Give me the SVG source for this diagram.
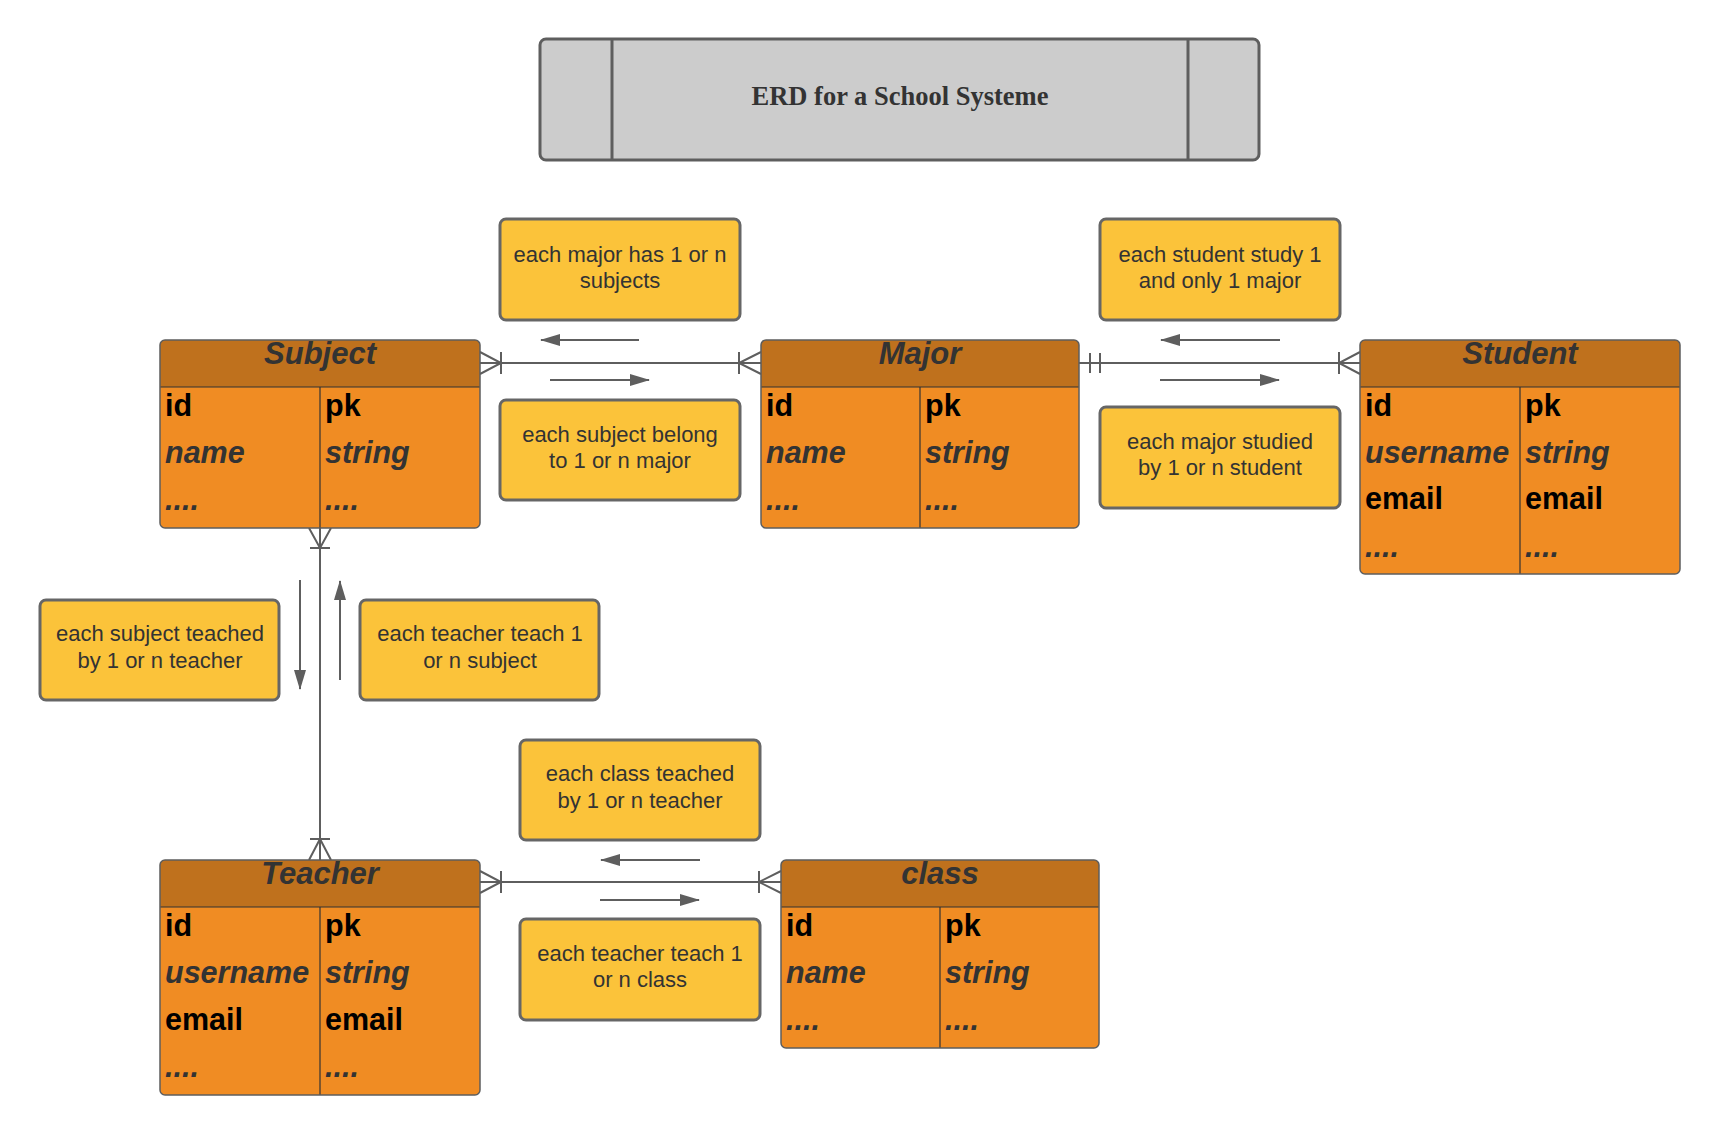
<svg xmlns="http://www.w3.org/2000/svg" width="1720" height="1135" viewBox="0 0 1720 1135">
<style>
.hdr{fill:#BF711D}
.body{fill:#F08C23}
.border{fill:none;stroke:#5E5E5E;stroke-width:1.5}
.sep{stroke:#333;stroke-width:1.2;fill:none}
.ht{font-family:"Liberation Sans",Arial,sans-serif;font-size:31px;font-weight:bold;font-style:italic;fill:#333;text-anchor:middle}
.k{font-family:"Liberation Sans",Arial,sans-serif;font-size:30.5px;font-weight:bold;fill:#000}
.v{font-family:"Liberation Sans",Arial,sans-serif;font-size:30.5px;font-weight:bold;font-style:italic;fill:#333}
.lbl rect{fill:#FBC33A;stroke:#666;stroke-width:3}
.lbl text{font-family:"Liberation Sans",Arial,sans-serif;font-size:22px;fill:#333;text-anchor:middle}
.cn{stroke:#5E5E5E;stroke-width:2;fill:none}
.ar{stroke:#5E5E5E;stroke-width:2;fill:none;marker-end:url(#ah)}
</style>
<defs>
<marker id="ah" markerUnits="userSpaceOnUse" markerWidth="20" markerHeight="12" viewBox="0 0 20 12" refX="19" refY="6" orient="auto">
<path d="M0,0 L20,6 L0,12 Z" fill="#5E5E5E"/>
</marker>
</defs>
<rect width="1720" height="1135" fill="#fff"/>

<g id="title">
<rect x="540" y="39" width="719" height="121" rx="6" fill="#CCCCCC" stroke="#5E5E5E" stroke-width="3"/>
<line x1="612" y1="39" x2="612" y2="160" stroke="#5E5E5E" stroke-width="3"/>
<line x1="1188" y1="39" x2="1188" y2="160" stroke="#5E5E5E" stroke-width="3"/>
<text x="900" y="105" font-family="'Liberation Serif','Times New Roman',serif" font-size="26.5" font-weight="bold" fill="#333" text-anchor="middle">ERD for a School Systeme</text>
</g>

<g id="connectors">
<line class="cn" x1="480" y1="363" x2="761" y2="363"/>
<path class="cn" d="M480,352 L501,363 L480,374 M501,352 V374"/>
<path class="cn" d="M761,352 L739,363 L761,374 M739,352 V374"/>
<line class="cn" x1="1079" y1="363" x2="1360" y2="363"/>
<path class="cn" d="M1090,353 V373 M1100,353 V373"/>
<path class="cn" d="M1360,352 L1339,363 L1360,374 M1339,352 V374"/>
<line class="cn" x1="320" y1="528" x2="320" y2="860"/>
<path class="cn" d="M309,528 L320,548 L331,528 M310,548 H330"/>
<path class="cn" d="M309,860 L320,839 L331,860 M310,839 H330"/>
<line class="cn" x1="480" y1="882" x2="781" y2="882"/>
<path class="cn" d="M480,871 L501,882 L480,893 M501,871 V893"/>
<path class="cn" d="M781,871 L759,882 L781,893 M759,871 V893"/>
<line class="ar" x1="639" y1="340" x2="541" y2="340"/>
<line class="ar" x1="550" y1="380" x2="649" y2="380"/>
<line class="ar" x1="1280" y1="340" x2="1161" y2="340"/>
<line class="ar" x1="1160" y1="380" x2="1279" y2="380"/>
<line class="ar" x1="300" y1="580" x2="300" y2="689"/>
<line class="ar" x1="340" y1="680" x2="340" y2="581"/>
<line class="ar" x1="700" y1="860" x2="601" y2="860"/>
<line class="ar" x1="600" y1="900" x2="699" y2="900"/>
</g>

<g id="subject">
<rect class="body" x="160" y="340" width="320" height="188" rx="5"/>
<path class="hdr" d="M160,387 V345 Q160,340 165,340 H475 Q480,340 480,345 V387 Z"/>
<line class="sep" x1="160" y1="387" x2="480" y2="387"/>
<line class="sep" x1="320" y1="387" x2="320" y2="528"/>
<rect class="border" x="160" y="340" width="320" height="188" rx="5"/>
<text class="ht" x="320" y="364">Subject</text>
<text class="k" x="165" y="416">id</text><text class="k" x="325" y="416">pk</text>
<text class="v" x="165" y="463">name</text><text class="v" x="325" y="463">string</text>
<text class="v" x="165" y="510">....</text><text class="v" x="325" y="510">....</text>
</g>

<g id="major">
<rect class="body" x="761" y="340" width="318" height="188" rx="5"/>
<path class="hdr" d="M761,387 V345 Q761,340 766,340 H1074 Q1079,340 1079,345 V387 Z"/>
<line class="sep" x1="761" y1="387" x2="1079" y2="387"/>
<line class="sep" x1="920" y1="387" x2="920" y2="528"/>
<rect class="border" x="761" y="340" width="318" height="188" rx="5"/>
<text class="ht" x="920" y="364">Major</text>
<text class="k" x="766" y="416">id</text><text class="k" x="925" y="416">pk</text>
<text class="v" x="766" y="463">name</text><text class="v" x="925" y="463">string</text>
<text class="v" x="766" y="510">....</text><text class="v" x="925" y="510">....</text>
</g>

<g id="student">
<rect class="body" x="1360" y="340" width="320" height="234" rx="5"/>
<path class="hdr" d="M1360,387 V345 Q1360,340 1365,340 H1675 Q1680,340 1680,345 V387 Z"/>
<line class="sep" x1="1360" y1="387" x2="1680" y2="387"/>
<line class="sep" x1="1520" y1="387" x2="1520" y2="574"/>
<rect class="border" x="1360" y="340" width="320" height="234" rx="5"/>
<text class="ht" x="1520" y="364">Student</text>
<text class="k" x="1365" y="416">id</text><text class="k" x="1525" y="416">pk</text>
<text class="v" x="1365" y="463">username</text><text class="v" x="1525" y="463">string</text>
<text class="k" x="1365" y="509">email</text><text class="k" x="1525" y="509">email</text>
<text class="v" x="1365" y="557">....</text><text class="v" x="1525" y="557">....</text>
</g>

<g id="teacher">
<rect class="body" x="160" y="860" width="320" height="235" rx="5"/>
<path class="hdr" d="M160,907 V865 Q160,860 165,860 H475 Q480,860 480,865 V907 Z"/>
<line class="sep" x1="160" y1="907" x2="480" y2="907"/>
<line class="sep" x1="320" y1="907" x2="320" y2="1095"/>
<rect class="border" x="160" y="860" width="320" height="235" rx="5"/>
<text class="ht" x="320" y="884">Teacher</text>
<text class="k" x="165" y="936">id</text><text class="k" x="325" y="936">pk</text>
<text class="v" x="165" y="983">username</text><text class="v" x="325" y="983">string</text>
<text class="k" x="165" y="1030">email</text><text class="k" x="325" y="1030">email</text>
<text class="v" x="165" y="1077">....</text><text class="v" x="325" y="1077">....</text>
</g>

<g id="class">
<rect class="body" x="781" y="860" width="318" height="188" rx="5"/>
<path class="hdr" d="M781,907 V865 Q781,860 786,860 H1094 Q1099,860 1099,865 V907 Z"/>
<line class="sep" x1="781" y1="907" x2="1099" y2="907"/>
<line class="sep" x1="940" y1="907" x2="940" y2="1048"/>
<rect class="border" x="781" y="860" width="318" height="188" rx="5"/>
<text class="ht" x="940" y="884">class</text>
<text class="k" x="786" y="936">id</text><text class="k" x="945" y="936">pk</text>
<text class="v" x="786" y="983">name</text><text class="v" x="945" y="983">string</text>
<text class="v" x="786" y="1030">....</text><text class="v" x="945" y="1030">....</text>
</g>

<g id="lbl-major-subjects" class="lbl">
<rect x="500" y="219" width="240" height="101" rx="6"/>
<text x="620" y="262">each major has 1 or n</text>
<text x="620" y="288">subjects</text>
</g>
<g id="lbl-subject-major" class="lbl">
<rect x="500" y="400" width="240" height="100" rx="6"/>
<text x="620" y="442">each subject belong</text>
<text x="620" y="468">to 1 or n major</text>
</g>
<g id="lbl-student-major" class="lbl">
<rect x="1100" y="219" width="240" height="101" rx="6"/>
<text x="1220" y="262">each student study 1</text>
<text x="1220" y="288">and only 1 major</text>
</g>
<g id="lbl-major-student" class="lbl">
<rect x="1100" y="407" width="240" height="101" rx="6"/>
<text x="1220" y="449">each major studied</text>
<text x="1220" y="475">by 1 or n student</text>
</g>
<g id="lbl-subject-teacher" class="lbl">
<rect x="40" y="600" width="239" height="100" rx="6"/>
<text x="160" y="641">each subject teached</text>
<text x="160" y="668">by 1 or n teacher</text>
</g>
<g id="lbl-teacher-subject" class="lbl">
<rect x="360" y="600" width="239" height="100" rx="6"/>
<text x="480" y="641">each teacher teach 1</text>
<text x="480" y="668">or n subject</text>
</g>
<g id="lbl-class-teacher" class="lbl">
<rect x="520" y="740" width="240" height="100" rx="6"/>
<text x="640" y="781">each class teached</text>
<text x="640" y="808">by 1 or n teacher</text>
</g>
<g id="lbl-teacher-class" class="lbl">
<rect x="520" y="919" width="240" height="101" rx="6"/>
<text x="640" y="961">each teacher teach 1</text>
<text x="640" y="987">or n class</text>
</g>
</svg>
